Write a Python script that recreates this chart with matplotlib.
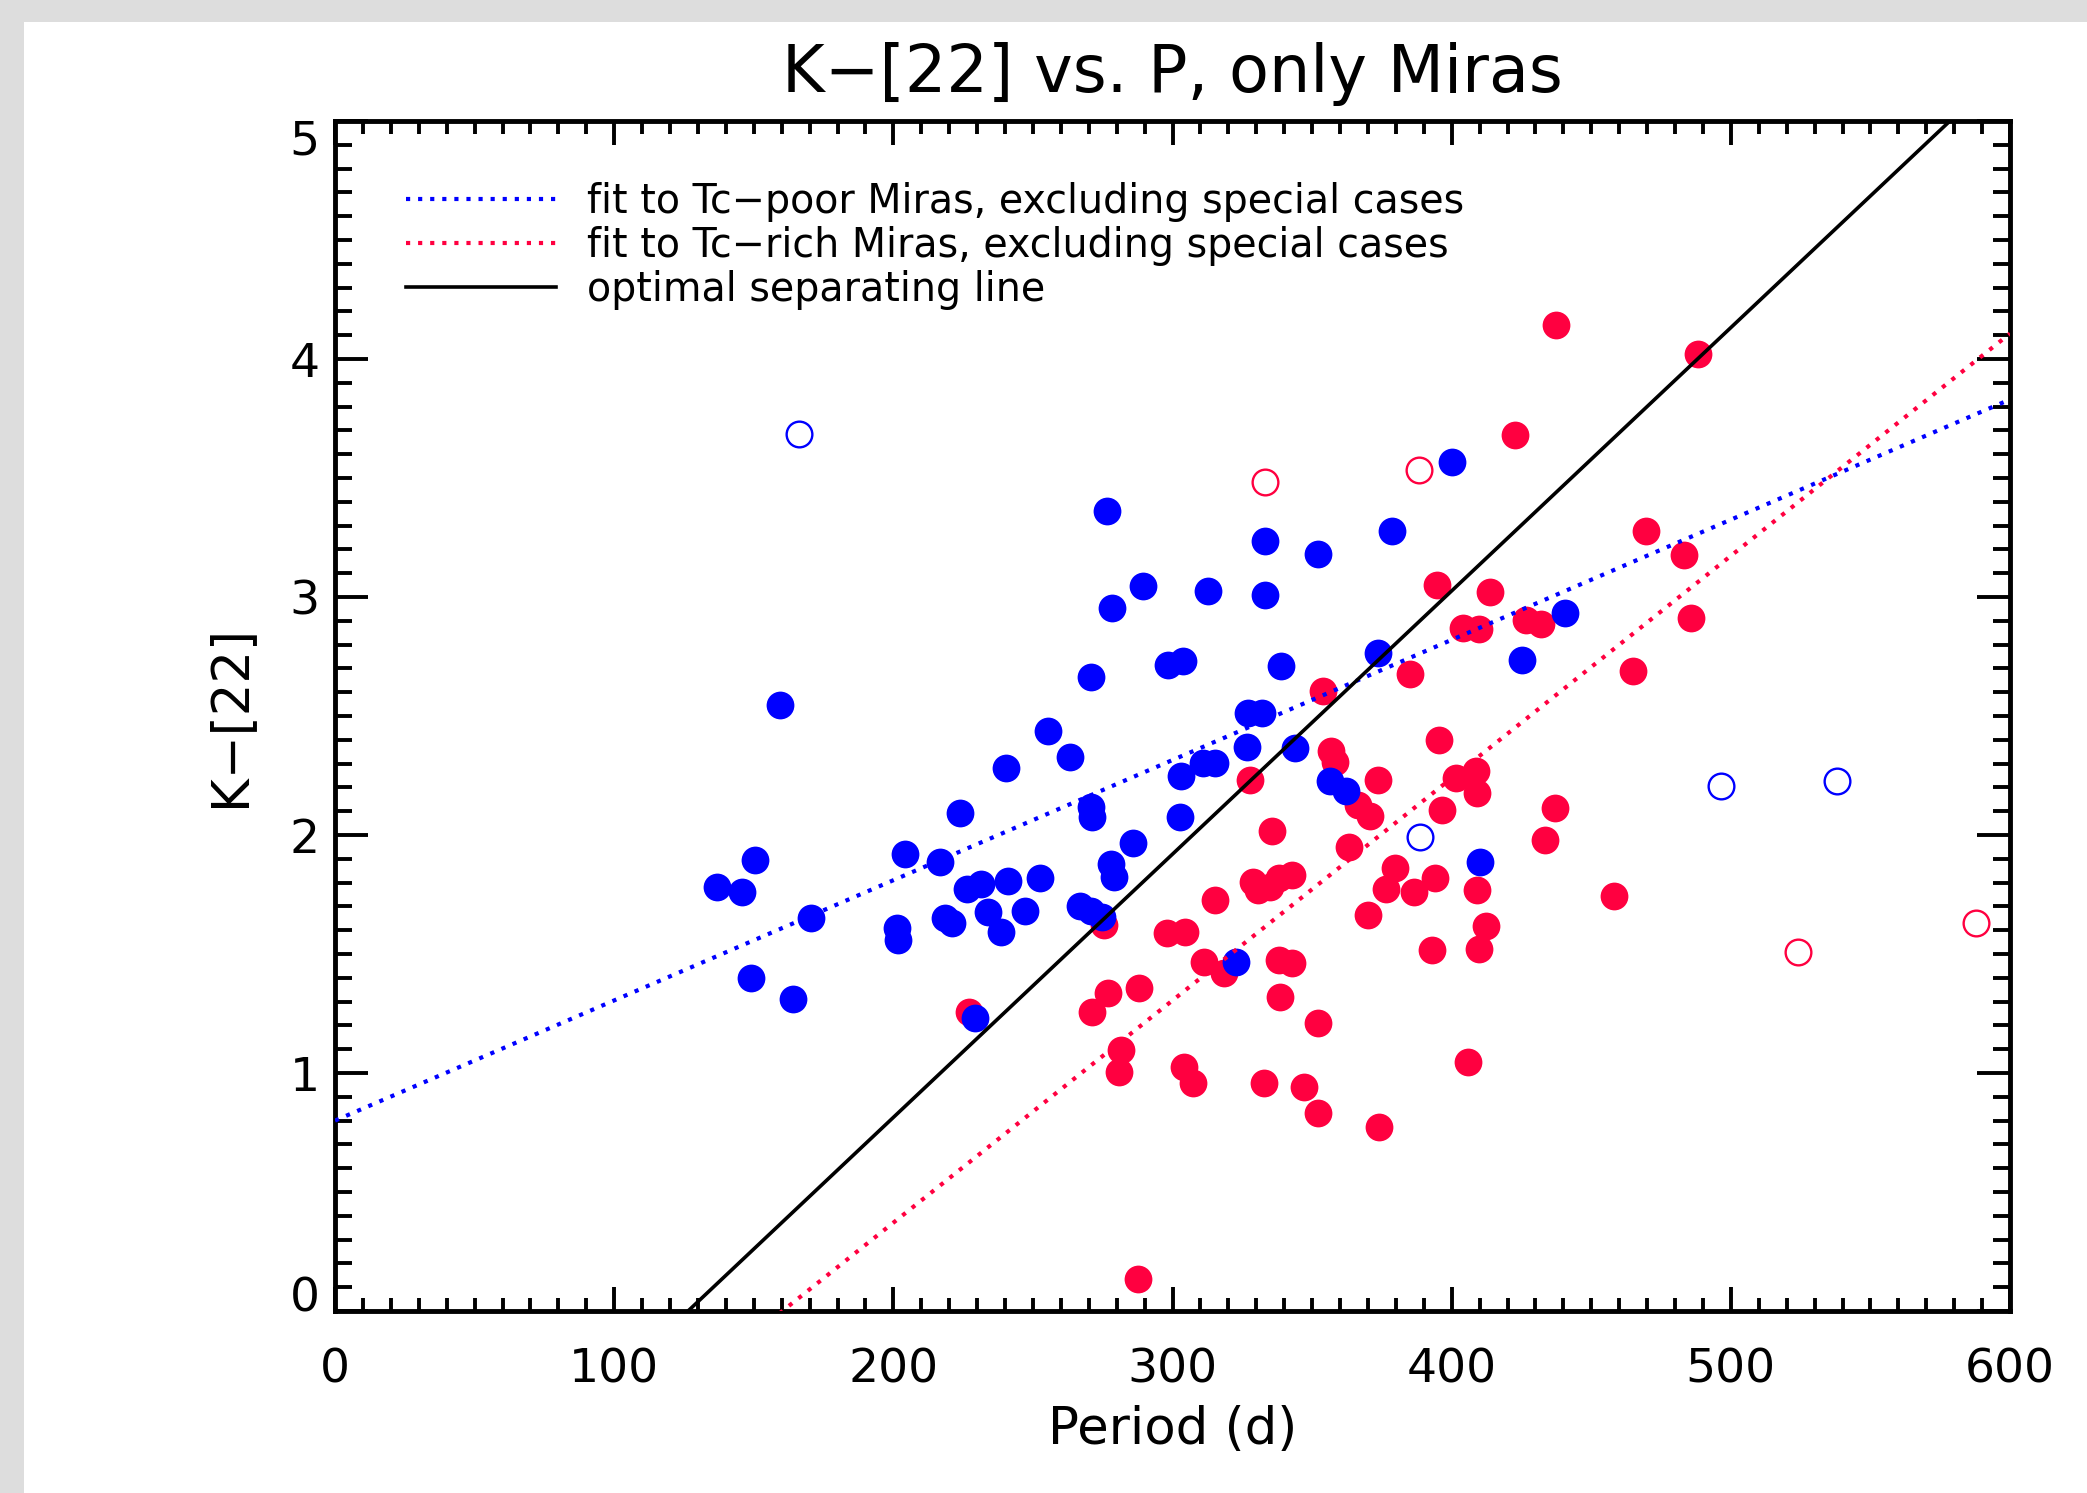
import numpy as np
import matplotlib
matplotlib.use("Agg")
import matplotlib.pyplot as plt
from matplotlib.patches import Rectangle
from matplotlib.ticker import MultipleLocator
from matplotlib.transforms import ScaledTranslation

plt.rcParams['font.family'] = ['DejaVu Sans']

# Tc-poor Miras (blue, filled)
poor_period = [276.7, 333.0, 352.2, 289.5, 278.4, 312.6, 333.2, 159.4, 270.7, 298.4,
               303.6, 338.8, 327.1, 331.9, 255.5, 263.3, 240.3, 303.1, 311.1, 315.1,
               326.8, 343.9, 356.4, 362.2, 270.8, 271.2, 302.6, 223.7, 285.8, 204.3,
               216.6, 150.6, 136.8, 145.9, 226.4, 231.3, 240.9, 252.4, 277.9, 279.2,
               170.6, 201.2, 201.7, 218.6, 221.0, 233.8, 238.4, 247.3, 266.7, 270.7,
               274.8, 322.8, 229.3, 410.2, 400.0, 378.8, 440.6, 425.1, 373.5, 164.1,
               149.0]
poor_color = [3.361, 3.234, 3.179, 3.046, 2.952, 3.024, 3.010, 2.548, 2.662, 2.714,
              2.732, 2.711, 2.511, 2.511, 2.437, 2.329, 2.280, 2.248, 2.301, 2.301,
              2.371, 2.367, 2.227, 2.184, 2.119, 2.077, 2.077, 2.094, 1.968, 1.920,
              1.888, 1.895, 1.783, 1.762, 1.772, 1.793, 1.805, 1.820, 1.878, 1.825,
              1.653, 1.608, 1.559, 1.650, 1.629, 1.678, 1.594, 1.680, 1.703, 1.682,
              1.657, 1.466, 1.230, 1.886, 3.568, 3.278, 2.934, 2.737, 2.763, 1.310,
              1.400]

# Tc-rich Miras (red, filled)
rich_period = [437.4, 488.1, 422.6, 469.7, 483.2, 394.6, 413.6, 404.1, 409.9, 426.6,
               431.9, 485.9, 464.9, 385.2, 353.8, 395.6, 356.8, 358.2, 373.5, 401.4,
               408.6, 409.0, 366.3, 370.9, 396.4, 437.0, 433.4, 363.3, 379.8, 376.6,
               386.6, 394.2, 409.0, 412.2, 370.0, 458.2, 392.9, 409.7, 405.8, 327.7,
               335.8, 315.4, 328.8, 330.8, 334.9, 338.0, 342.7, 297.9, 304.5, 311.3,
               318.4, 338.0, 342.7, 338.4, 352.0, 276.9, 271.2, 288.0, 281.4, 281.0,
               304.1, 307.2, 332.8, 347.2, 352.0, 374.0, 287.6, 275.3, 227.0]
rich_color = [4.142, 4.022, 3.679, 3.278, 3.176, 3.049, 3.019, 2.869, 2.865, 2.903,
              2.887, 2.912, 2.689, 2.676, 2.606, 2.400, 2.353, 2.306, 2.231, 2.240,
              2.268, 2.175, 2.128, 2.081, 2.103, 2.113, 1.978, 1.950, 1.860, 1.775,
              1.762, 1.819, 1.768, 1.618, 1.665, 1.743, 1.518, 1.522, 1.045, 2.231,
              2.018, 1.727, 1.804, 1.769, 1.783, 1.818, 1.832, 1.587, 1.594, 1.468,
              1.419, 1.475, 1.461, 1.321, 1.209, 1.335, 1.258, 1.356, 1.097, 1.005,
              1.027, 0.957, 0.957, 0.943, 0.831, 0.775, 0.133, 1.622, 1.258]

# special cases (open circles)
poor_special_period = [166.1, 388.5, 496.3, 538.2]
poor_special_color = [3.685, 1.991, 2.207, 2.226]
rich_special_period = [333.0, 388.3, 524.2, 587.8]
rich_special_color = [3.482, 3.535, 1.509, 1.631]

# line fits: K-[22] = a + b * P
poor_fit = (0.80, 0.00505)
rich_fit = (-1.497, 0.00934)
separating = (-1.399, 0.011062)

BLUE = '#0000ff'
RED = '#ff0040'

fig = plt.figure(figsize=(20.87, 14.93), dpi=100)
fig.patch.set_facecolor('#dddddd')
fig.patches.append(Rectangle((24 / 2087, 0), 1, 1 - 22 / 1493, transform=fig.transFigure,
                             facecolor='white', edgecolor='none', zorder=-1))

ax = fig.add_axes([0.16052, 0.12190, 0.80259, 0.79705])

ax.plot(rich_period, rich_color, 'o', color=RED, ms=20, mew=0, zorder=2)
ax.plot(poor_period, poor_color, 'o', color=BLUE, ms=20, mew=0, zorder=3)
ax.plot(rich_special_period, rich_special_color, 'o', mfc='none', mec=RED, ms=18.5, mew=1.7, zorder=3)
ax.plot(poor_special_period, poor_special_color, 'o', mfc='none', mec=BLUE, ms=18.5, mew=1.7, zorder=3)

xx = np.linspace(0, 600, 601)
ax.plot(xx, poor_fit[0] + poor_fit[1] * xx, color=BLUE, lw=3.0, ls=(0, (1, 1.9)), zorder=4,
        label='fit to Tc\u2212poor Miras, excluding special cases')
ax.plot(xx, rich_fit[0] + rich_fit[1] * xx, color=RED, lw=3.0, ls=(0, (1, 1.9)), zorder=4,
        label='fit to Tc\u2212rich Miras, excluding special cases')
ax.plot(xx, separating[0] + separating[1] * xx, color='black', lw=2.6, zorder=4,
        label='optimal separating line')

ax.set_xlim(0, 600)
ax.set_ylim(0, 5)
ax.xaxis.set_major_locator(MultipleLocator(100))
ax.xaxis.set_minor_locator(MultipleLocator(10))
ax.yaxis.set_major_locator(MultipleLocator(1))
ax.yaxis.set_minor_locator(MultipleLocator(0.1))

for s in ax.spines.values():
    s.set_linewidth(3.5)
ax.tick_params(axis='x', which='both', direction='in', top=True, bottom=True, width=2.8)
ax.tick_params(axis='y', which='both', direction='in', left=True, right=True, width=2.8)
ax.tick_params(axis='x', which='major', length=17.5, labelsize=34, pad=26)
ax.tick_params(axis='x', which='minor', length=9.5)
ax.tick_params(axis='y', which='major', length=24, labelsize=34, pad=11)
ax.tick_params(axis='y', which='minor', length=12)

# end labels of the y axis sit inside the frame, as in the original
yticks = ax.yaxis.get_major_ticks()
ylocs = ax.get_yticks()
for tick, loc in zip(yticks, ylocs):
    if abs(loc - 5) < 1e-6:
        tick.label1.set_transform(tick.label1.get_transform()
                                  + ScaledTranslation(0, -16 / 100, fig.dpi_scale_trans))
    elif abs(loc) < 1e-6:
        tick.label1.set_transform(tick.label1.get_transform()
                                  + ScaledTranslation(0, 17 / 100, fig.dpi_scale_trans))

ax.set_xlabel('Period (d)', fontsize=37)
ax.set_ylabel('K\u2212[22]', fontsize=37)
ax.xaxis.set_label_coords(0.5, -0.079)
ax.yaxis.set_label_coords(-0.048, 0.5)
ax.set_title('K\u2212[22] vs. P, only Miras', fontsize=47, pad=21)

ax.legend(loc='upper left', bbox_to_anchor=(0.0424, 0.949), frameon=False, fontsize=28.5,
          borderpad=0, borderaxespad=0, handlelength=3.8, handletextpad=0.76,
          labelspacing=0.1)

fig.savefig('out.png', dpi=100, facecolor=fig.get_facecolor())
